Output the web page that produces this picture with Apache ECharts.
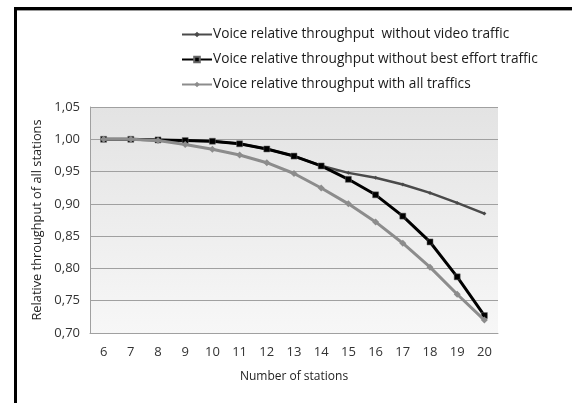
<!DOCTYPE html>
<html><head><meta charset="utf-8">
<script src="https://cdn.jsdelivr.net/npm/echarts@6/dist/echarts.min.js"></script>
<style>html,body{margin:0;padding:0;background:#fff}#c{width:572px;height:403px}</style>
</head><body><div id="c"></div>
<script>
const categories = ['6','7','8','9','10','11','12','13','14','15','16','17','18','19','20'];
const withoutVideo = [1.000,1.000,0.999,0.998,0.997,0.993,0.985,0.974,0.959,0.948,0.9405,0.930,0.917,0.9015,0.885];
const withoutBestEffort = [1.000,1.000,0.999,0.998,0.997,0.993,0.985,0.974,0.9587,0.938,0.914,0.881,0.841,0.787,0.727];
const withAll = [1.000,1.000,0.998,0.992,0.9845,0.9757,0.9637,0.947,0.9245,0.900,0.872,0.839,0.802,0.760,0.720];
const names = ['Voice relative throughput  without video traffic','Voice relative throughput without best effort traffic','Voice relative throughput with all traffics'];
const font = '"Open Sans", sans-serif';
const chart = echarts.init(document.getElementById('c'), null, {renderer:'canvas'});
chart.setOption({
  animation:false,
  backgroundColor:'#fff',
  textStyle:{fontFamily:font},
  graphic:[
    {type:'rect', shape:{x:14,y:7,width:558,height:3}, style:{fill:'#000'}, silent:true},
    {type:'rect', shape:{x:16,y:10,width:556,height:1}, style:{fill:'#999'}, silent:true},
    {type:'rect', shape:{x:14,y:7,width:3,height:396}, style:{fill:'#000'}, silent:true}
  ],
  legend:{
    orient:'vertical', left:176, top:20, itemGap:6, itemWidth:30, itemHeight:7,
    textStyle:{fontFamily:font, fontSize:13.7, color:'#1a1a1a', padding:[0,0,0,-4], lineHeight:19},
    data:names
  },
  grid:{left:90, right:74, top:107, bottom:70, show:true, borderWidth:0,
    backgroundColor:{type:'linear',x:0,y:0,x2:0,y2:1,colorStops:[{offset:0,color:'#e3e3e3'},{offset:1,color:'#f7f7f7'}]}},
  xAxis:{type:'category', data:categories, boundaryGap:true,
    name:'Number of stations', nameLocation:'middle', nameGap:38,
    nameTextStyle:{fontFamily:font, fontSize:12, color:'#222'},
    axisLine:{show:true, lineStyle:{color:'#a0a0a0', width:1}},
    axisTick:{show:false},
    axisLabel:{fontFamily:font, fontSize:13, color:'#333', margin:13}
  },
  yAxis:{type:'value', min:0.70, max:1.05, interval:0.05,
    name:'Relative throughput of all stations', nameLocation:'middle', nameGap:44,
    nameTextStyle:{fontFamily:font, fontSize:12.8, color:'#222'},
    axisLine:{show:true, lineStyle:{color:'#a0a0a0', width:1}},
    axisTick:{show:false},
    splitLine:{lineStyle:{color:'#a0a0a0', width:1}},
    axisLabel:{fontFamily:font, fontSize:13, color:'#333', margin:10,
      formatter:v=>v.toFixed(2).replace('.',',')}
  },
  series:[
    {name:names[0], type:'line', data:withoutVideo, color:'#4a4a4a',
     lineStyle:{width:2.5, color:'#4a4a4a'}, symbol:'diamond', symbolSize:4,
     itemStyle:{color:'#4a4a4a'}, z:2},
    {name:names[1], type:'line', data:withoutBestEffort, color:'#000',
     lineStyle:{width:3, color:'#000'}, symbol:'rect', symbolSize:6,
     itemStyle:{color:'#000', borderColor:'#666', borderWidth:0.5}, z:3},
    {name:names[2], type:'line', data:withAll, color:'#8c8c8c',
     lineStyle:{width:3, color:'#8c8c8c'}, symbol:'diamond', symbolSize:7,
     itemStyle:{color:'#8c8c8c'}, z:4}
  ]
});
</script></body></html>
